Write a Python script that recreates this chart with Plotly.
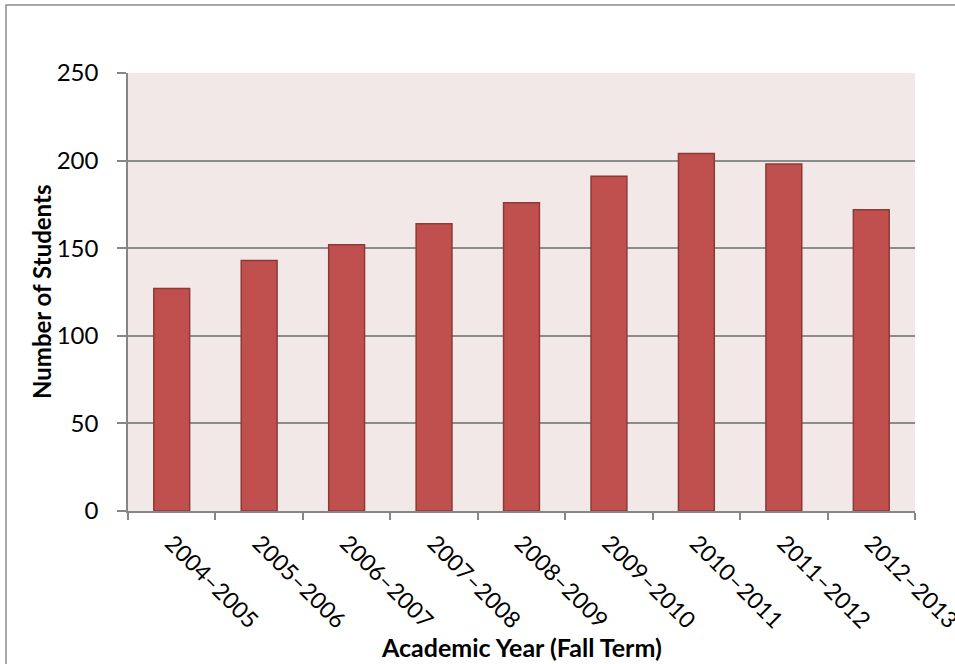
import plotly.graph_objects as go

years = ["2004–2005", "2005–2006", "2006–2007", "2007–2008", "2008–2009",
         "2009–2010", "2010–2011", "2011–2012", "2012–2013"]
students = [127, 143, 152, 164, 176, 191, 204, 198, 172]
y_ticks = [0, 50, 100, 150, 200, 250]

W, H = 955, 664
L, R, T, B = 128, 40, 73, 153
pw, ph = W - L - R, H - T - B

def px_x(x):
    return (x - L) / pw

def px_y(y):
    return (H - B - y) / ph

FONT = "Lato"

fig = go.Figure(go.Bar(
    x=years, y=students,
    marker=dict(color="#C0504D", line=dict(color="#8C3A38", width=1.5)),
))

fig.update_layout(
    width=W, height=H,
    margin=dict(l=L, r=R, t=T, b=B, autoexpand=False),
    paper_bgcolor="white",
    plot_bgcolor="#F2E8E8",
    bargap=0.59,
    showlegend=False,
    font=dict(family=FONT, size=23, color="black"),
    shapes=[dict(type="rect", xref="paper", yref="paper",
                 x0=px_x(6), x1=3, y0=-3, y1=px_y(5),
                 line=dict(color="#8C8C8C", width=1.5), layer="below")],
    annotations=[
        dict(text="<b>Academic Year (Fall Term)</b>", xref="paper", yref="paper",
             x=0.5, y=px_y(647), xanchor="center", yanchor="middle",
             showarrow=False, font=dict(family=FONT, size=25)),
        dict(text="<b>Number of Students</b>", xref="paper", yref="paper",
             x=px_x(41), y=0.5, xanchor="center", yanchor="middle", textangle=-90,
             showarrow=False, font=dict(family=FONT, size=24)),
    ],
)

fig.update_yaxes(
    range=[0, 250], tickvals=y_ticks, ticks="outside", ticklen=9,
    tickcolor="#868686", tickwidth=1.5,
    showgrid=True, gridcolor="#8C8C8C", gridwidth=1.5,
    showline=True, linecolor="#868686", linewidth=1.5,
    zeroline=False, ticklabelstandoff=14,
    tickfont=dict(family=FONT, size=24),
)
fig.update_xaxes(
    tickangle=45, ticks="outside", tickson="boundaries", ticklen=7,
    tickcolor="#868686", tickwidth=1.5,
    showline=True, linecolor="#868686", linewidth=1.5,
    showgrid=False, ticklabelstandoff=8,
    tickfont=dict(family=FONT, size=23),
)

fig.write_html("out.html")
